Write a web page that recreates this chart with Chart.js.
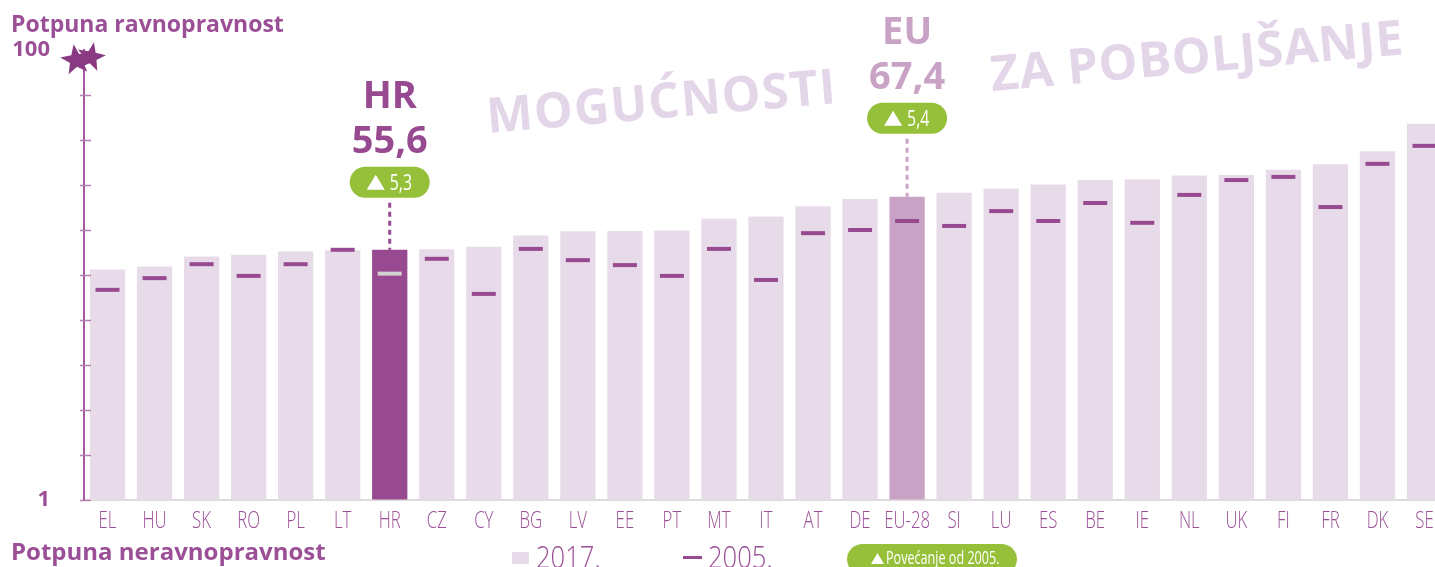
<!DOCTYPE html>
<html>
<head>
<meta charset="utf-8">
<script src="https://cdn.jsdelivr.net/npm/chart.js@4.4.1/dist/chart.umd.min.js"></script>
<style>
  html, body { margin: 0; padding: 0; background: #fff; overflow: hidden; }
  #okvir { width: 1435px; height: 567px; position: relative; }
  #okvir canvas { display: block; }
</style>
</head>
<body>
<div id="okvir"><canvas id="grafikon" width="1435" height="567"></canvas></div>
<script>
// Indeks ravnopravnosti spolova po državama
const drzave = ["EL", "HU", "SK", "RO", "PL", "LT", "HR", "CZ", "CY", "BG", "LV", "EE", "PT", "MT", "IT",
  "AT", "DE", "EU-28", "SI", "LU", "ES", "BE", "IE", "NL", "UK", "FI", "FR", "DK", "SE"];

const vrijednosti2017 = [51.2, 51.9, 54.1, 54.5, 55.2, 55.5, 55.6, 55.7, 56.3, 58.8, 59.7, 59.8, 59.9, 62.5, 63.0,
  65.3, 66.9, 67.4, 68.3, 69.2, 70.1, 71.1, 71.3, 72.1, 72.2, 73.4, 74.6, 77.5, 83.6];

const vrijednosti2005 = [46.7, 49.3, 52.4, 49.8, 52.4, 55.6, 50.3, 53.6, 45.8, 55.8, 53.3, 52.2, 49.8, 55.8, 48.9,
  59.3, 60.0, 62.0, 60.9, 64.2, 62.0, 66.0, 61.6, 67.8, 71.1, 71.8, 65.1, 74.7, 78.7];

// istaknuti stupci: kategorija, natpis, porast od 2005.
const istaknuto = ["HR", "EU-28"];
const istaknutoNatpis = ["HR", "EU"];
const porast = [5.3, 5.4];

// os y
const osYVrijednosti = [0, 10, 20, 30, 40, 50, 60, 70, 80, 90, 100];
const osYOznake = ["1", "", "", "", "", "", "", "", "", "", "100"];

const LJUB = "#974a8f";
const LJUB_TXT = "#9b4f96";
const SVIJETLO = "#e8dbe9";
const EU_BOJA = "#c9a3c6";
const ZELENA = "#96c03a";
const SANS = "'Open Sans', sans-serif";

const bojeStupaca = drzave.map(d => d === "HR" ? LJUB : (d === "EU-28" ? EU_BOJA : SVIJETLO));
const bojeCrtica = drzave.map(d => d === "HR" ? "#d2d2d2" : LJUB);

function zarez(v) { return v.toFixed(1).replace(".", ","); }

// uski tekst (sužen vodoravno)
function uski(ctx, tekst, x, y, vel, tezina, sx, poravnanje) {
  ctx.save();
  ctx.font = tezina + " " + vel + "px " + SANS;
  ctx.textBaseline = "alphabetic";
  ctx.textAlign = poravnanje || "left";
  ctx.translate(x, y);
  ctx.scale(sx, 1);
  ctx.fillText(tekst, 0, 0);
  ctx.restore();
}

function zvijezda(ctx, cx, cy, r, rot) {
  ctx.beginPath();
  for (let i = 0; i < 10; i++) {
    const rr = i % 2 === 0 ? r : r * 0.42;
    const a = -Math.PI / 2 + rot + i * Math.PI / 5;
    const x = cx + rr * Math.cos(a), y = cy + rr * Math.sin(a);
    if (i === 0) ctx.moveTo(x, y); else ctx.lineTo(x, y);
  }
  ctx.closePath();
  ctx.fill();
}

function pilula(ctx, x, y, w, h) {
  const r = h / 2;
  ctx.beginPath();
  ctx.moveTo(x + r, y);
  ctx.lineTo(x + w - r, y);
  ctx.arc(x + w - r, y + r, r, -Math.PI / 2, Math.PI / 2);
  ctx.lineTo(x + r, y + h);
  ctx.arc(x + r, y + r, r, Math.PI / 2, Math.PI * 1.5);
  ctx.closePath();
  ctx.fill();
}

function trokut(ctx, x, yDno, w, h) {
  ctx.beginPath();
  ctx.moveTo(x, yDno);
  ctx.lineTo(x + w / 2, yDno - h);
  ctx.lineTo(x + w, yDno);
  ctx.closePath();
  ctx.fill();
}

function nagnutiTekst(ctx, tekst, x, y, kut, sirina) {
  ctx.save();
  ctx.translate(x, y);
  ctx.rotate(kut * Math.PI / 180);
  ctx.font = "bold 49px " + SANS;
  ctx.fillStyle = "#e3d6e8";
  ctx.textAlign = "left";
  ctx.textBaseline = "alphabetic";
  const w0 = ctx.measureText(tekst).width;
  const razmak = (sirina - w0) / (tekst.length - 1);
  let px = 0;
  for (const ch of tekst) {
    ctx.fillText(ch, px, 0);
    px += ctx.measureText(ch).width + razmak;
  }
  ctx.restore();
}

const dodaci = {
  id: "dodaci",
  // zadnji stupac (SE) izlazi preko desnog ruba slike
  afterLayout(chart) {
    const x = chart.scales.x;
    const desno = chart.width + 13;
    x.right = desno;
    x.width = desno - x.left;
    chart.chartArea.right = desno;
    chart.chartArea.width = desno - chart.chartArea.left;
    x.configure();
  },
  beforeDatasetsDraw(chart) {
    const ctx = chart.ctx;
    nagnutiTekst(ctx, "MOGUĆNOSTI", 488, 133, -4.9, 350);
    nagnutiTekst(ctx, "ZA POBOLJŠANJE", 992, 91, -5.1, 414);
  },
  afterDraw(chart) {
    const ctx = chart.ctx;
    const x = chart.scales.x, y = chart.scales.y;
    const osX = chart.chartArea.left;

    // oznake kategorija
    ctx.save();
    ctx.fillStyle = LJUB_TXT;
    drzave.forEach((d, i) => {
      uski(ctx, d, x.getPixelForValue(i), 528, 24, 300, 0.7, "center");
    });
    ctx.restore();

    // crtice na osi y
    ctx.save();
    ctx.strokeStyle = "#b27db0";
    ctx.lineWidth = 1.5;
    osYVrijednosti.forEach(v => {
      if (v === 100) return;
      const py = Math.round(y.getPixelForValue(v)) + 0.5;
      ctx.beginPath();
      ctx.moveTo(osX - 4, py);
      ctx.lineTo(osX + 7, py);
      ctx.stroke();
    });
    ctx.restore();

    // zvijezde na vrhu osi
    ctx.save();
    ctx.fillStyle = "#8a3a82";
    const vrh = y.getPixelForValue(100);
    zvijezda(ctx, osX - 8, vrh + 10, 16, -0.15);
    zvijezda(ctx, osX + 7, vrh + 7, 15, 0.2);
    ctx.restore();

    // natpisi uz os
    ctx.save();
    ctx.fillStyle = LJUB_TXT;
    ctx.textAlign = "left";
    ctx.textBaseline = "alphabetic";
    ctx.font = "bold 23px " + SANS;
    ctx.fillText("Potpuna ravnopravnost", 11, 32);
    ctx.font = "bold 24px " + SANS;
    ctx.fillText("Potpuna neravnopravnost", 11, 560);
    ctx.restore();

    // istaknuti stupci
    istaknuto.forEach((kat, i) => {
      const idx = drzave.indexOf(kat);
      const cx = x.getPixelForValue(idx);
      const vrhStupca = y.getPixelForValue(vrijednosti2017[idx]);
      const razmak = kat === "HR" ? 52 : 63;
      const boja = kat === "HR" ? LJUB : EU_BOJA;
      const pw = 80, ph = 31;
      const pDno = vrhStupca - razmak;
      const pVrh = pDno - ph;

      // točkasta linija
      ctx.save();
      ctx.strokeStyle = boja;
      ctx.lineWidth = 3;
      ctx.setLineDash([5, 4]);
      ctx.beginPath();
      ctx.moveTo(cx, pDno + 5);
      ctx.lineTo(cx, vrhStupca);
      ctx.stroke();
      ctx.restore();

      // zelena pilula
      ctx.save();
      ctx.fillStyle = ZELENA;
      pilula(ctx, cx - pw / 2, pVrh, pw, ph);
      ctx.fillStyle = "#fff";
      trokut(ctx, cx - 23, pVrh + 23, 18, 15);
      uski(ctx, zarez(porast[i]), cx + 0, pVrh + 23, 22, 400, 0.72, "left");
      ctx.restore();

      // natpis i vrijednost
      ctx.save();
      ctx.fillStyle = boja;
      ctx.font = "bold 38px " + SANS;
      ctx.textAlign = "center";
      ctx.textBaseline = "alphabetic";
      ctx.fillText(zarez(vrijednosti2017[idx]), cx, pVrh - 14);
      ctx.fillText(istaknutoNatpis[i], cx, pVrh - 59);
      ctx.restore();
    });

    // legenda
    ctx.save();
    ctx.fillStyle = SVIJETLO;
    ctx.fillRect(512, 552, 17, 12);
    ctx.fillStyle = LJUB;
    ctx.fillRect(683, 556, 19, 3);
    ctx.fillStyle = LJUB_TXT;
    uski(ctx, "2017.", 536, 568, 32, 300, 0.8, "left");
    uski(ctx, "2005.", 708, 568, 32, 300, 0.8, "left");
    ctx.fillStyle = ZELENA;
    pilula(ctx, 847, 544, 170, 31);
    ctx.fillStyle = "#fff";
    trokut(ctx, 871, 564, 13, 11);
    uski(ctx, "Povećanje od 2005.", 886, 564, 18, 400, 0.7, "left");
    ctx.restore();
  }
};

new Chart(document.getElementById("grafikon"), {
  type: "bar",
  data: {
    labels: drzave,
    datasets: [
      {
        label: "2017.",
        data: vrijednosti2017,
        backgroundColor: bojeStupaca,
        barPercentage: 0.75,
        categoryPercentage: 1.0,
        order: 2
      },
      {
        type: "line",
        label: "2005.",
        data: vrijednosti2005,
        showLine: false,
        pointStyle: "line",
        pointRadius: 12,
        pointHoverRadius: 12,
        pointBorderWidth: 4,
        pointBorderColor: bojeCrtica,
        borderColor: LJUB,
        order: 1
      }
    ]
  },
  options: {
    responsive: false,
    animation: false,
    layout: { padding: { top: 50, right: 0, bottom: 0, left: 0 } },
    plugins: {
      legend: { display: false },
      tooltip: { enabled: false }
    },
    scales: {
      x: {
        grid: { display: false },
        border: { display: true, color: "#dcdcdc", width: 2 },
        ticks: { display: false },
        afterFit(scale) { scale.height = 67; }
      },
      y: {
        min: 0,
        max: 100,
        afterBuildTicks(scale) { scale.ticks = osYVrijednosti.map(v => ({ value: v })); },
        afterFit(scale) { scale.width = 84; },
        grid: { drawOnChartArea: false, drawTicks: false },
        border: { display: true, color: "#a259a0", width: 2 },
        ticks: {
          autoSkip: false,
          padding: 34,
          color: LJUB_TXT,
          font: { family: SANS, size: 22, weight: "bold" },
          callback: (v, i) => osYOznake[osYVrijednosti.indexOf(v)]
        }
      }
    }
  },
  plugins: [dodaci]
});
</script>
</body>
</html>
